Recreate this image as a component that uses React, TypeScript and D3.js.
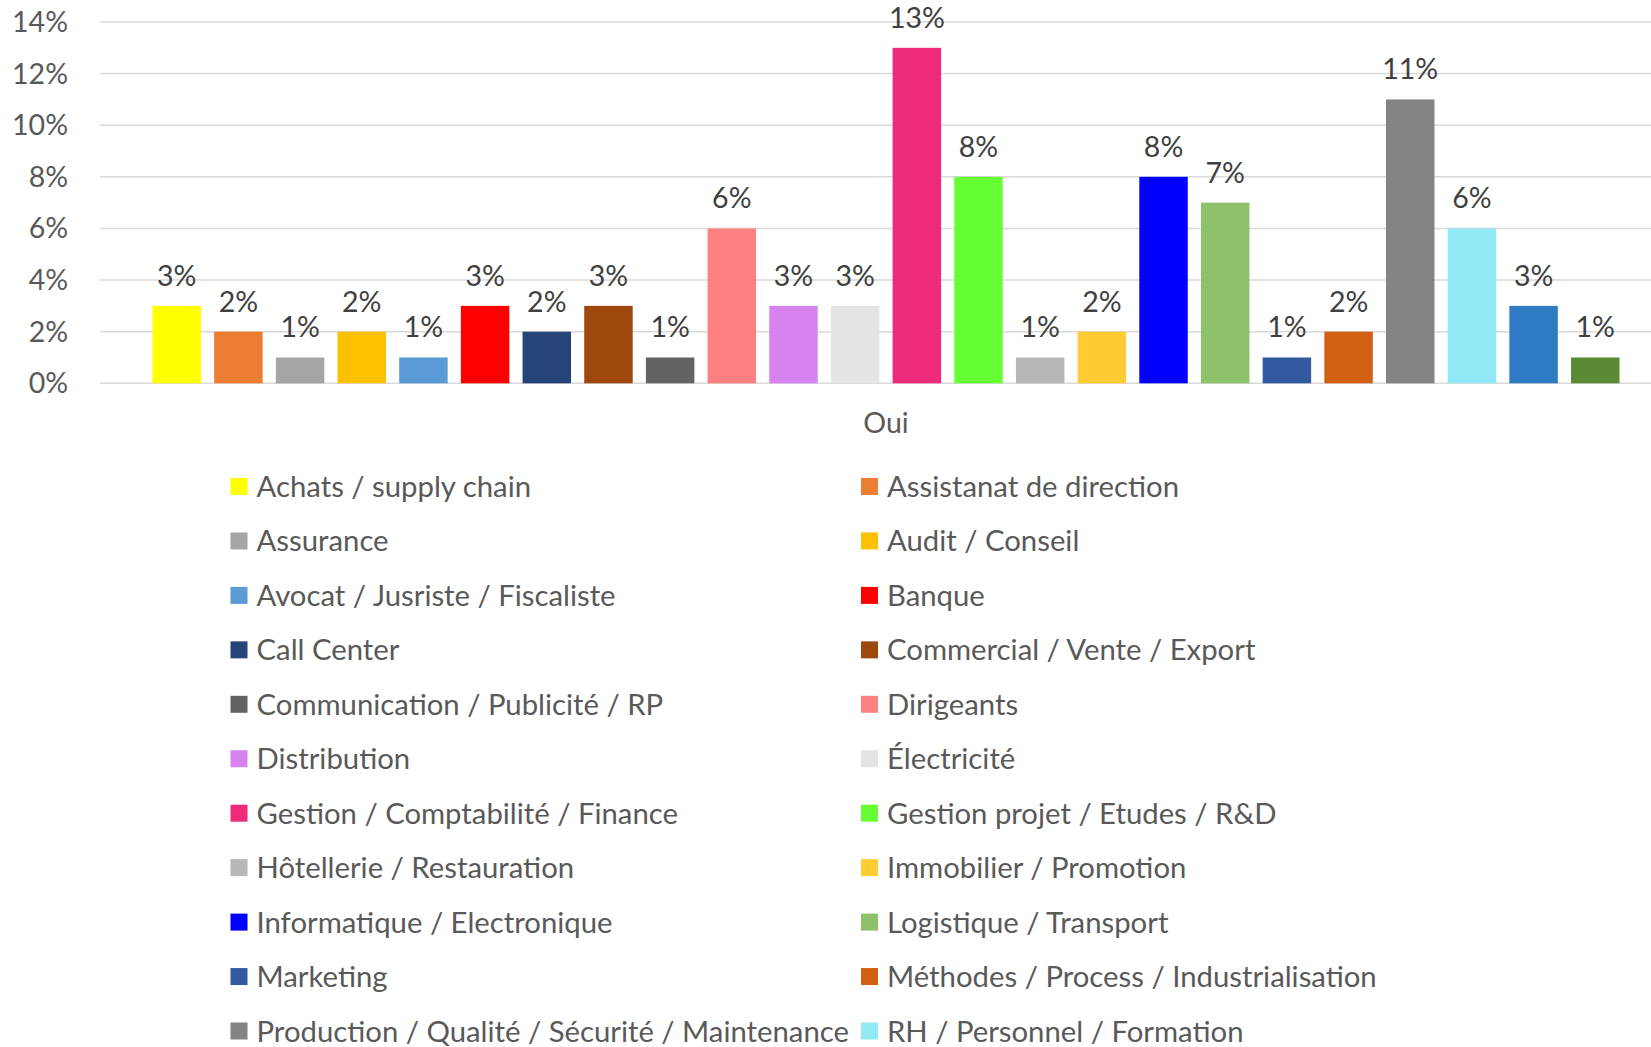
import React from 'react';
import * as d3 from 'd3';

// categories (legend order = bar order)
const categories = [
  'Achats / supply chain',
  'Assistanat de direction',
  'Assurance',
  'Audit / Conseil',
  'Avocat / Jusriste / Fiscaliste',
  'Banque',
  'Call Center',
  'Commercial / Vente / Export',
  'Communication / Publicité / RP',
  'Dirigeants',
  'Distribution',
  'Électricité',
  'Gestion / Comptabilité / Finance',
  'Gestion projet / Etudes / R&D',
  'Hôtellerie / Restauration',
  'Immobilier / Promotion',
  'Informatique / Electronique',
  'Logistique / Transport',
  'Marketing',
  'Méthodes / Process / Industrialisation',
  'Production / Qualité / Sécurité / Maintenance',
  'RH / Personnel / Formation',
  'Santé / Social',
  'Télécoms',
];

const values = [3, 2, 1, 2, 1, 3, 2, 3, 1, 6, 3, 3, 13, 8, 1, 2, 8, 7, 1, 2, 11, 6, 3, 1];

const colors = [
  '#FFFF00', '#ED7D31', '#A5A5A5', '#FFC000', '#5B9BD5', '#FF0000',
  '#264478', '#9E480E', '#636363', '#FF8080', '#D683F0', '#E4E4E4',
  '#EE2A7B', '#66FF33', '#B7B7B7', '#FFCC33', '#0000FF', '#8DC26B',
  '#335AA1', '#D26012', '#848484', '#91EAF5', '#2E7BC4', '#5B8A35',
];

const groups = ['Oui'];
const yTicks = [0, 2, 4, 6, 8, 10, 12, 14];

const W = 1651;
const H = 1047;
const FONT = 'Lato, "Open Sans", sans-serif';

const App = () => {
  const y = d3.scaleLinear().domain([0, 14]).range([383.3, 22]);
  const x0 = d3.scaleBand().domain(groups).range([100, 1672]).paddingOuter(0.031);
  const x1 = d3.scaleBand()
    .domain(categories)
    .range([x0('Oui'), x0('Oui') + x0.bandwidth()])
    .paddingInner(0.214)
    .paddingOuter(0.107);

  const legX = [230.5, 861];
  const legY0 = 486.5;
  const legStep = 54.45;

  // the legend runs past the bottom of the picture; only rows that fit are drawn
  const legItems = categories
    .map((c, i) => ({ c, i, col: i % 2, cy: legY0 + Math.floor(i / 2) * legStep }))
    .filter(d => d.cy + 12 < H);

  return (
    <div style={{ position: 'absolute', left: 0, top: 0, width: W, height: H, overflow: 'hidden', background: '#fff' }}>
      <svg width={W} height={H} style={{ display: 'block' }} fontFamily={FONT}>
        <rect width={W} height={H} fill="#fff" />
        {/* gridlines */}
        {yTicks.map(t => (
          <line key={t} x1={100} x2={W} y1={y(t)} y2={y(t)} stroke="#d9d9d9" strokeWidth={1.5} />
        ))}
        {/* y tick labels */}
        {yTicks.map(t => (
          <text key={'l' + t} x={68} y={y(t) + 10} textAnchor="end" fontSize={28.5} fill="#595959">{t}%</text>
        ))}
        {/* bars */}
        {categories.map((c, i) => (
          <g key={c}>
            <rect x={x1(c)} y={y(values[i])} width={x1.bandwidth()} height={y(0) - y(values[i])} fill={colors[i]} />
            <text x={x1(c) + x1.bandwidth() / 2} y={y(values[i]) - 20} textAnchor="middle" fontSize={28.5} fill="#404040">
              {values[i]}%
            </text>
          </g>
        ))}
        {/* category label */}
        <text x={x0('Oui') + x0.bandwidth() / 2} y={433.3} textAnchor="middle" fontSize={28.5} fill="#595959">Oui</text>
        {/* legend */}
        {legItems.map(d => (
          <g key={'leg' + d.c}>
            <rect x={legX[d.col]} y={d.cy - 8.5} width={17} height={17} fill={colors[d.i]} />
            <text x={legX[d.col] + 26} y={d.cy + 10.5} fontSize={29.3} fill="#595959">{d.c}</text>
          </g>
        ))}
      </svg>
    </div>
  );
};

export default App;
